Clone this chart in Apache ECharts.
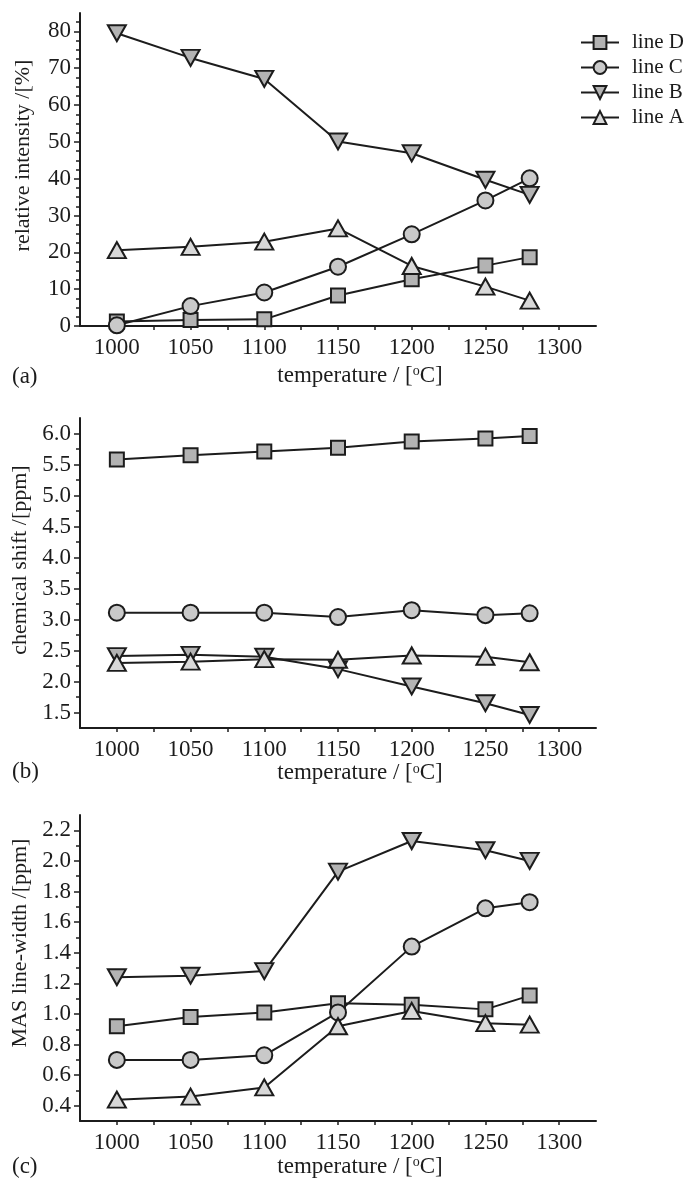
<!DOCTYPE html>
<html><head><meta charset="utf-8">
<script src="https://cdn.jsdelivr.net/npm/echarts@6/dist/echarts.min.js"></script>
<style>html,body{margin:0;padding:0;background:#fff}#c{width:685px;height:1179px}</style>
</head><body><div id="c"></div>
<script>
// ---- data ----
const temps = [1000, 1050, 1100, 1150, 1200, 1250, 1280];
const seriesNames = ['line D', 'line C', 'line B', 'line A'];
// (a) relative intensity /[%]
const aD = [1.2, 1.6, 1.8, 8.3, 12.7, 16.4, 18.7];
const aC = [0.2, 5.4, 9.1, 16.1, 24.9, 34.1, 40.1];
const aB = [79.5, 72.8, 67.1, 50.1, 46.9, 39.7, 35.6];
const aA = [20.6, 21.5, 22.9, 26.5, 16.3, 10.7, 6.9];
// (b) chemical shift /[ppm]
const bD = [5.58, 5.65, 5.71, 5.77, 5.87, 5.92, 5.96];
const bC = [3.11, 3.11, 3.11, 3.04, 3.15, 3.07, 3.10];
const bB = [2.41, 2.43, 2.40, 2.20, 1.92, 1.65, 1.46];
const bA = [2.30, 2.32, 2.36, 2.35, 2.42, 2.40, 2.31];
// (c) MAS line-width /[ppm]
const cD = [0.92, 0.98, 1.01, 1.07, 1.06, 1.03, 1.12];
const cC = [0.70, 0.70, 0.73, 1.01, 1.44, 1.69, 1.73];
const cB = [1.24, 1.25, 1.28, 1.93, 2.13, 2.07, 2.00];
const cA = [0.44, 0.46, 0.52, 0.92, 1.02, 0.94, 0.93];
// ticks
const xLabelValues = [1000, 1050, 1100, 1150, 1200, 1250, 1300];
const xTickValues = [1000, 1025, 1050, 1075, 1100, 1125, 1150, 1175, 1200, 1225, 1250, 1275, 1300];
const aLabelValues = [0, 10, 20, 30, 40, 50, 60, 70, 80];
const bLabelValues = [1.5, 2.0, 2.5, 3.0, 3.5, 4.0, 4.5, 5.0, 5.5, 6.0];
const cLabelValues = [0.4, 0.6, 0.8, 1.0, 1.2, 1.4, 1.6, 1.8, 2.0, 2.2];
const aMinor = [2.5, 5, 7.5, 12.5, 15, 17.5, 22.5, 25, 27.5, 32.5, 35, 37.5, 42.5, 45, 47.5, 52.5, 55, 57.5, 62.5, 65, 67.5, 72.5, 75, 77.5, 82.5];
const bMinor = [1.75, 2.25, 2.75, 3.25, 3.75, 4.25, 4.75, 5.25, 5.75];
const cMinor = [0.5, 0.7, 0.9, 1.1, 1.3, 1.5, 1.7, 1.9, 2.1];
const yTitles = ['relative intensity /[%]', 'chemical shift /[ppm]', 'MAS line-width /[ppm]'];
const panelTags = ['(a)', '(b)', '(c)'];

// ---- styling ----
const FONT = "'Liberation Serif', 'Times New Roman', serif";
const INK = '#1c1c1c';
const markers = {
  'line D': { symbol: 'rect', size: [14, 14], fill: '#b3b3b3' },
  'line C': { symbol: 'circle', size: 16, fill: '#c9c9c9' },
  'line B': { symbol: 'path://M0,0 L10,0 L5,9 Z', size: [18, 16], fill: '#b3b3b3' },
  'line A': { symbol: 'path://M5,0 L10,9 L0,9 Z', size: [18, 16], fill: '#d8d8d8' }
};
const panels = [
  { data: [aD, aC, aB, aA], min: 0, max: 85, labels: aLabelValues, minor: aMinor, fmt: v => String(Math.round(v)),
    grid: { top: 13, height: 313 }, yPad: 28, xGap: 38 },
  { data: [bD, bC, bB, bA], min: 1.25, max: 6.25, labels: bLabelValues, minor: bMinor, fmt: v => v.toFixed(1),
    grid: { top: 418, height: 310 }, yPad: 26, xGap: 32 },
  { data: [cD, cC, cB, cA], min: 0.3, max: 2.3, labels: cLabelValues, minor: cMinor, fmt: v => v.toFixed(1),
    grid: { top: 815, height: 308 }, yPad: 50, xGap: 29 }
];
const tagTops = [365, 760, 1155];

const grids = [], xAxes = [], yAxes = [], series = [], titles = [];
panels.forEach((p, i) => {
  grids.push({ left: 80, width: 516, top: p.grid.top, height: p.grid.height });
  xAxes.push({
    type: 'value', gridIndex: i, min: 975, max: 1325,
    axisLine: { lineStyle: { color: INK, width: 2 } },
    axisTick: { customValues: xTickValues, length: 4, lineStyle: { color: INK, width: 1.5 } },
    axisLabel: { customValues: xLabelValues, formatter: v => String(v), margin: 10, fontSize: 23, fontFamily: FONT, color: INK },
    splitLine: { show: false },
    name: 'temperature / [{sup|o}C]', nameLocation: 'middle', nameGap: p.xGap,
    nameTextStyle: { fontSize: 23, fontFamily: FONT, color: INK, padding: [0, 0, 0, 44],
      rich: { sup: { fontSize: 14, fontFamily: FONT, color: INK, verticalAlign: 'top' } } }
  });
  yAxes.push({
    type: 'value', gridIndex: i, min: p.min, max: p.max, position: 'left',
    axisLine: { show: true, lineStyle: { color: INK, width: 2 } },
    axisTick: { show: true, customValues: p.labels, length: 6, lineStyle: { color: INK, width: 1.5 } },
    axisLabel: { customValues: p.labels, formatter: p.fmt, margin: 9, fontSize: 23, fontFamily: FONT, color: INK },
    splitLine: { show: false },
    name: yTitles[i], nameLocation: 'middle', nameGap: 46,
    nameTextStyle: { fontSize: 22, fontFamily: FONT, color: INK, padding: [0, 0, 0, p.yPad] }
  });
  yAxes.push({
    type: 'value', gridIndex: i, min: p.min, max: p.max, position: 'left',
    axisLine: { show: false },
    axisTick: { show: true, customValues: p.minor, length: 4, lineStyle: { color: INK, width: 1.5 } },
    axisLabel: { show: false }, splitLine: { show: false }
  });
  p.data.forEach((arr, k) => {
    const name = seriesNames[k];
    const m = markers[name];
    series.push({
      type: 'line', name: name, xAxisIndex: i, yAxisIndex: 2 * i,
      data: temps.map((t, j) => [t, arr[j]]),
      symbol: m.symbol, symbolSize: m.size, showSymbol: true,
      itemStyle: { color: m.fill, borderColor: INK, borderWidth: 2, opacity: 1 },
      lineStyle: { color: INK, width: 2 },
      emphasis: { disabled: true }, z: 2 + k
    });
  });
  titles.push({ text: panelTags[i], left: 12, top: tagTops[i], padding: 0,
    textStyle: { fontSize: 23, fontFamily: FONT, color: INK, fontWeight: 'normal' } });
});

const chart = echarts.init(document.getElementById('c'), null, { renderer: 'canvas' });
chart.setOption({
  animation: false,
  backgroundColor: '#fff',
  title: titles,
  legend: {
    data: seriesNames, orient: 'vertical', left: 575, top: 27,
    itemWidth: 38, itemHeight: 16, itemGap: 4,
    textStyle: { fontSize: 21, fontFamily: FONT, color: INK, padding: [0, 0, 0, 8] }
  },
  grid: grids, xAxis: xAxes, yAxis: yAxes, series: series
});
</script></body></html>
